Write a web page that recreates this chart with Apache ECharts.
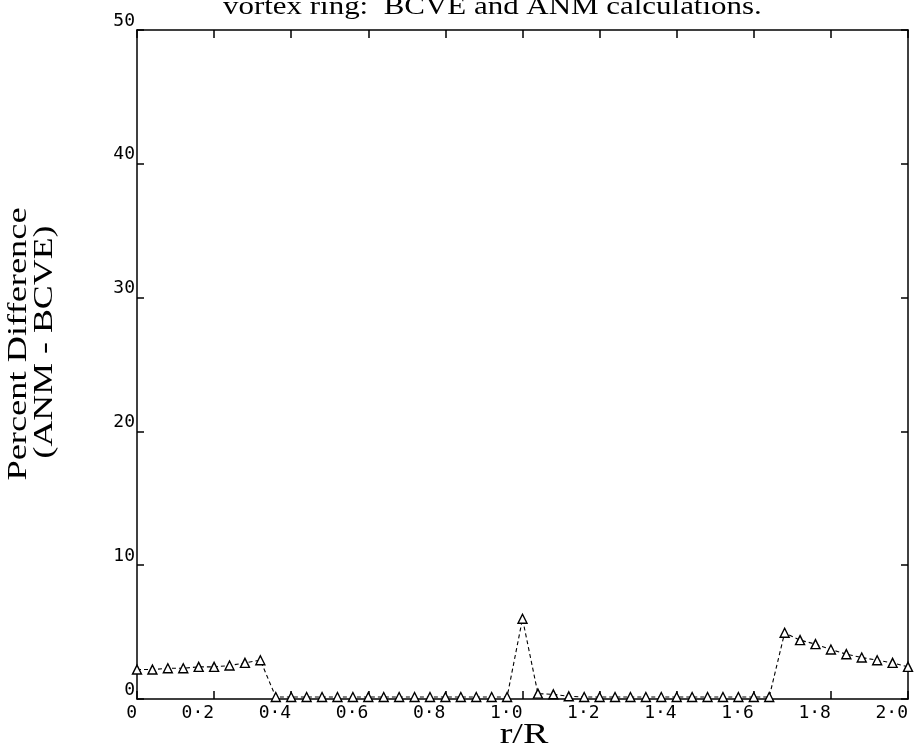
<!DOCTYPE html>
<html>
<head>
<meta charset="utf-8">
<script src="https://cdn.jsdelivr.net/npm/echarts@6/dist/echarts.min.js"></script>
<style>
  html, body { margin: 0; padding: 0; background: #fff; }
  #chart { width: 917px; height: 753px; }
</style>
</head>
<body>
<div id="chart"></div>
<script>
// Radial stations r/R along the vortex ring
const rOverR = [
  0.00, 0.04, 0.08, 0.12, 0.16, 0.20, 0.24, 0.28, 0.32, 0.36,
  0.40, 0.44, 0.48, 0.52, 0.56, 0.60, 0.64, 0.68, 0.72, 0.76,
  0.80, 0.84, 0.88, 0.92, 0.96, 1.00, 1.04, 1.08, 1.12, 1.16,
  1.20, 1.24, 1.28, 1.32, 1.36, 1.40, 1.44, 1.48, 1.52, 1.56,
  1.60, 1.64, 1.68, 1.72, 1.76, 1.80, 1.84, 1.88, 1.92, 1.96,
  2.00
];

// Percent difference (ANM - BCVE) at each station
const percentDiff = [
  2.2, 2.2, 2.3, 2.3, 2.4, 2.4, 2.5, 2.7, 2.9, 0.15,
  0.15, 0.15, 0.15, 0.15, 0.15, 0.15, 0.15, 0.15, 0.15, 0.15,
  0.15, 0.15, 0.15, 0.15, 0.15, 6.0, 0.4, 0.35, 0.2, 0.15,
  0.15, 0.15, 0.15, 0.15, 0.15, 0.15, 0.15, 0.15, 0.15, 0.15,
  0.15, 0.15, 4.95, 4.4, 4.1, 3.7, 3.35, 3.1, 2.9, 2.7,
  2.4
];

const xTickLabels = ['0', '0·2', '0·4', '0·6', '0·8', '1·0', '1·2', '1·4', '1·6', '1·8', '2·0'];
const yTickLabels = ['0', '10', '20', '30', '40', '50'];

const titleText = 'vortex ring:  BCVE and ANM calculations.';
const xName = 'r/R';
const yNameLines = ['Percent Difference', '(ANM - BCVE)'];

const serif = '"Liberation Serif", "Times New Roman", serif';
const mono = '"DejaVu Sans Mono", monospace';

const chart = echarts.init(document.getElementById('chart'), null, { renderer: 'canvas' });

// Frame lines stay on their own edge instead of snapping to the other axis' zero
const frameLine = { show: true, onZero: false, lineStyle: { color: '#000', width: 1.5 } };
const tickStyle = { color: '#000', width: 1.5 };

// Serif captions are set in a slightly widened Times face
function caption(text, x, y, size, sx, rot, align) {
  return {
    type: 'text', x: x, y: y, rotation: rot || 0, scaleX: sx, silent: true,
    style: {
      text: text, x: 0, y: 0,
      font: 'normal ' + size + 'px ' + serif,
      fill: '#000', textAlign: align || 'center', textVerticalAlign: 'middle'
    }
  };
}

chart.setOption({
  animation: false,
  backgroundColor: '#fff',
  grid: { left: 137, right: 9, top: 30, bottom: 54, containLabel: false, outerBoundsMode: 'none' },
  graphic: [
    caption(titleText, 223, 7, 26, 1.19, 0, 'left'),
    caption(xName, 524, 735, 30, 1.27, 0, 'center'),
    caption(yNameLines[0], 19, 344, 28, 1.3, Math.PI / 2, 'center'),
    caption(yNameLines[1], 45, 342, 28, 1.28, Math.PI / 2, 'center')
  ],
  xAxis: [
    {
      type: 'value', min: 0, max: 2, interval: 0.2, position: 'bottom',
      axisLine: frameLine,
      axisTick: { show: true, inside: true, length: 8, lineStyle: tickStyle },
      axisLabel: {
        show: true, align: 'right', margin: 5,
        fontFamily: mono, fontSize: 18, color: '#000',
        formatter: (v) => xTickLabels[Math.round(v / 0.2)]
      },
      splitLine: { show: false }
    },
    {
      type: 'value', min: 0, max: 2, interval: 0.2, position: 'top',
      axisLine: frameLine,
      axisTick: { show: true, inside: true, length: 8, lineStyle: tickStyle },
      axisLabel: { show: false },
      splitLine: { show: false }
    }
  ],
  yAxis: [
    {
      type: 'value', min: 0, max: 50, interval: 10, position: 'left',
      axisLine: frameLine,
      axisTick: { show: true, inside: true, length: 7, lineStyle: tickStyle },
      axisLabel: {
        show: true, margin: 2, verticalAlign: 'bottom',
        fontFamily: mono, fontSize: 18, color: '#000',
        formatter: (v) => yTickLabels[Math.round(v / 10)]
      },
      splitLine: { show: false }
    },
    {
      type: 'value', min: 0, max: 50, interval: 10, position: 'right',
      axisLine: frameLine,
      axisTick: { show: true, inside: true, length: 7, lineStyle: tickStyle },
      axisLabel: { show: false },
      splitLine: { show: false }
    }
  ],
  series: [
    {
      type: 'line',
      xAxisIndex: 0, yAxisIndex: 0,
      data: rOverR.map((r, i) => [r, percentDiff[i]]),
      symbol: 'triangle',
      symbolSize: 9,
      showAllSymbol: true,
      lineStyle: { color: '#000', width: 1.1, type: [4, 3] },
      itemStyle: { color: '#fff', borderColor: '#000', borderWidth: 1.4 },
      clip: false
    }
  ]
});
</script>
</body>
</html>
